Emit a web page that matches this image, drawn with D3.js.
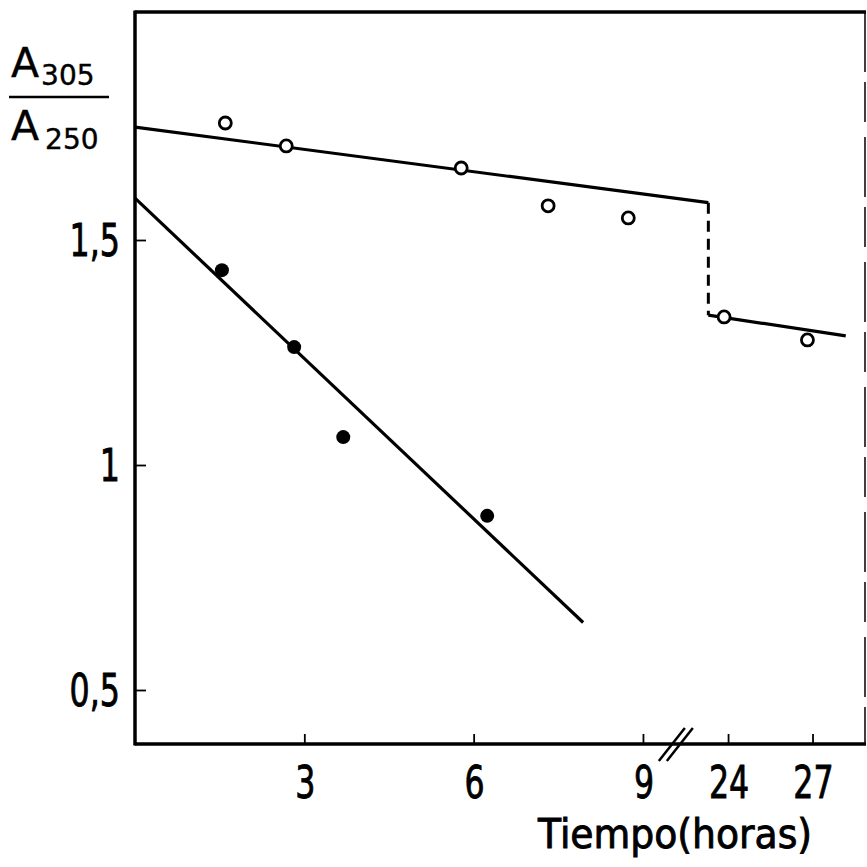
<!DOCTYPE html>
<html>
<head>
<meta charset="utf-8">
<script src="https://cdn.jsdelivr.net/npm/d3@7"></script>
<style>
  html, body { margin: 0; padding: 0; background: #fff; }
  svg text { font-family: "DejaVu Sans", sans-serif; fill: #000; stroke: #000; stroke-width: 0.9; }
  svg text.title { stroke-width: 0.4; }
</style>
</head>
<body>
<div id="chart"></div>
<script>
// values (hours, A305/A250)
const xTicks = [3, 6, 9, 24, 27];
const yTicks = [0.5, 1, 1.5];
const yTickLabels = ['0,5', '1', '1,5'];

const openHours = [1.6, 2.68, 5.78, 7.32, 8.74, 23.86, 26.82];
const openRatio = [1.76, 1.709, 1.66, 1.576, 1.549, 1.329, 1.278];

const filledHours = [1.54, 2.82, 3.69, 6.24];
const filledRatio = [1.433, 1.262, 1.062, 0.887];

// fitted lines
const upperLine = [[0, 1.751], [23.3, 1.583]];
const stepLine = [[23.3, 1.583], [23.3, 1.333]];
const lowerRightLine = [[23.3, 1.333], [28.18, 1.287]];
const filledLine = [[0, 1.593], [7.94, 0.65]];

const width = 867;
const height = 867;
const plotLeft = 135;
const plotRight = 866;
const plotTop = 12;
const plotBottom = 744;
const squeeze = 0.72; // the original lettering is narrow

const svg = d3.select('#chart')
  .append('svg')
  .attr('width', width)
  .attr('height', height);

// broken time axis: 0-9.6 h at one scale, 22.2-28.9 h compressed
const x = d3.scaleLinear()
  .domain([0, 9.6, 22.18, 28.9])
  .range([plotLeft, plotLeft + 9.6 * 56.44, plotLeft + 9.6 * 56.44, plotRight]);

const y = d3.scaleLinear()
  .domain([0.5, 1.5])
  .range([690, 240]);

const line = d3.line().x(d => x(d[0])).y(d => y(d[1]));

// frame
svg.append('line')
  .attr('x1', plotLeft).attr('x2', plotRight).attr('y1', plotTop).attr('y2', plotTop)
  .attr('stroke', '#000').attr('stroke-width', 3.5);
svg.append('line')
  .attr('x1', plotRight - 1).attr('x2', plotRight - 1).attr('y1', plotTop).attr('y2', plotBottom)
  .attr('stroke', '#000').attr('stroke-width', 1.5)
  .attr('stroke-dasharray', '60,10,40,15');
svg.append('line')
  .attr('x1', plotLeft).attr('x2', plotLeft).attr('y1', plotTop - 1.5).attr('y2', plotBottom + 1.5)
  .attr('stroke', '#000').attr('stroke-width', 3.5);
svg.append('line')
  .attr('x1', plotLeft).attr('x2', plotRight).attr('y1', plotBottom).attr('y2', plotBottom)
  .attr('stroke', '#000').attr('stroke-width', 3.5);

// y axis ticks (inward)
const yAxis = svg.append('g')
  .attr('transform', `translate(${plotLeft},0)`)
  .call(d3.axisRight(y).tickValues(yTicks).tickSize(11).tickFormat(''));
yAxis.select('.domain').remove();
yAxis.selectAll('.tick line').attr('stroke', '#000').attr('stroke-width', 1.8);

svg.selectAll('.ylab')
  .data(yTicks)
  .enter()
  .append('text')
  .attr('transform', d => `translate(${plotLeft - 15},${y(d) + 16}) scale(${squeeze},1)`)
  .attr('text-anchor', 'end')
  .attr('font-size', 44)
  .text((d, i) => yTickLabels[i]);

// x axis ticks (inward)
const xAxis = svg.append('g')
  .attr('transform', `translate(0,${plotBottom})`)
  .call(d3.axisTop(x).tickValues(xTicks).tickSize(10).tickFormat(''));
xAxis.select('.domain').remove();
xAxis.selectAll('.tick line').attr('stroke', '#000').attr('stroke-width', 1.8);

svg.selectAll('.xlab')
  .data(xTicks)
  .enter()
  .append('text')
  .attr('transform', d => `translate(${x(d) + 1},798) scale(${squeeze},1)`)
  .attr('text-anchor', 'middle')
  .attr('font-size', 44)
  .text(d => d);

// axis break marks
const bx = x(9.6);
[-4, 4].forEach(off => {
  svg.append('line')
    .attr('x1', bx + off - 14).attr('y1', plotBottom + 17)
    .attr('x2', bx + off + 12).attr('y2', plotBottom - 16)
    .attr('stroke', '#000').attr('stroke-width', 2.5);
});

// axis titles
svg.append('text')
  .attr('x', 538)
  .attr('y', 848)
  .attr('font-size', 40)
  .attr('textLength', 274)
  .attr('lengthAdjust', 'spacingAndGlyphs')
  .text('Tiempo(horas)');

const yTitle = svg.append('g');
const num = yTitle.append('text').attr('class', 'title').attr('x', 11).attr('y', 77).attr('font-size', 41);
num.append('tspan').text('A');
num.append('tspan').attr('font-size', 28).attr('dx', 2).attr('dy', 8).text('305');
yTitle.append('line')
  .attr('x1', 9).attr('x2', 109).attr('y1', 97).attr('y2', 97)
  .attr('stroke', '#000').attr('stroke-width', 2.5);
const den = yTitle.append('text').attr('class', 'title').attr('x', 11).attr('y', 140).attr('font-size', 41);
den.append('tspan').text('A');
den.append('tspan').attr('font-size', 28).attr('dx', 6).attr('dy', 9).text('250');

// fitted lines
[upperLine, lowerRightLine, filledLine].forEach(seg => {
  svg.append('path')
    .datum(seg)
    .attr('d', line)
    .attr('fill', 'none')
    .attr('stroke', '#000')
    .attr('stroke-width', 3.2);
});
svg.append('path')
  .datum(stepLine)
  .attr('d', line)
  .attr('fill', 'none')
  .attr('stroke', '#000')
  .attr('stroke-width', 3)
  .attr('stroke-dasharray', '11,7');

// points
svg.selectAll('.open')
  .data(openHours)
  .enter()
  .append('circle')
  .attr('cx', d => x(d))
  .attr('cy', (d, i) => y(openRatio[i]))
  .attr('r', 6)
  .attr('fill', '#fff')
  .attr('stroke', '#000')
  .attr('stroke-width', 2.8);

svg.selectAll('.filled')
  .data(filledHours)
  .enter()
  .append('circle')
  .attr('cx', d => x(d))
  .attr('cy', (d, i) => y(filledRatio[i]))
  .attr('r', 7)
  .attr('fill', '#000');
</script>
</body>
</html>
